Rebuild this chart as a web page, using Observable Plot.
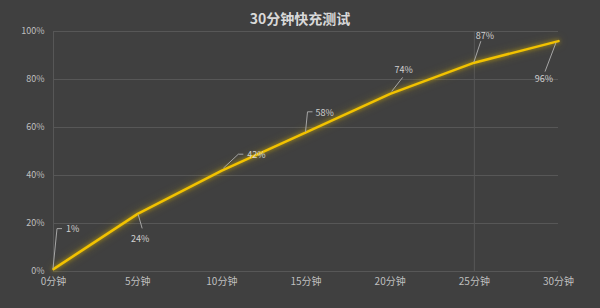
<!DOCTYPE html>
<html>
<head>
<meta charset="utf-8">
<script src="https://cdn.jsdelivr.net/npm/d3@7"></script>
<script src="https://cdn.jsdelivr.net/npm/@observablehq/plot@0.6"></script>
<style>
  html, body { margin: 0; padding: 0; background: #404040; }
  #wrap { width: 600px; height: 308px; position: relative; overflow: hidden; background: #404040; }
  #title { height: 24px; padding-top: 6px; line-height: 24px; text-align: center; font-family: "Noto Sans CJK SC", sans-serif; font-weight: bold; font-size: 14px; color: #d9d9d9; }
  svg { display: block; }
</style>
</head>
<body>
<div id="wrap"><div id="title">30分钟快充测试</div><div id="chart"></div></div>
<script>
const minutes = [0, 5, 10, 15, 20, 25, 30];
const charge = [1, 24, 42, 58, 74, 87, 96];
const xTickLabels = minutes.map(m => `${m}分钟`);
const yTicks = [0, 20, 40, 60, 80, 100];
const yTickLabels = yTicks.map(v => `${v}%`);
const pointLabels = charge.map(v => `${v}%`);

// leader-line layout (pixel offsets from each point): polyline, then text position
const leaderPaths = [
  [[0, 0], [4, -40], [9, -40]],
  [[1, 1], [5, 15]],
  [[2, -2], [17, -16], [22, -16]],
  [[0, 0], [2, -20], [7, -20]],
  [[2, -2], [13, -16]],
  [[0, 0], [7, -21]],
  [[-2, 2], [-13, 31]]
];
const textPos = [
  [13, -40, "start"],
  [3, 25, "middle"],
  [26, -15, "start"],
  [10, -19, "start"],
  [14, -24, "middle"],
  [11, -26, "middle"],
  [-14, 38, "middle"]
];

const data = minutes.map((m, i) => ({ m, v: charge[i], label: pointLabels[i] }));
const font = `"Noto Sans CJK SC", "Noto Sans", sans-serif`;

const labelsMark = (index, scales) => {
  const g = d3.create("svg:g");
  data.forEach((d, i) => {
    const px = scales.x(d.m), py = scales.y(d.v);
    g.append("polyline")
      .attr("points", leaderPaths[i].map(([dx, dy]) => `${px + dx},${py + dy}`).join(" "))
      .attr("fill", "none")
      .attr("stroke", "#a6a6a6")
      .attr("stroke-width", 1);
    const [tx, ty, anchor] = textPos[i];
    g.append("text")
      .attr("x", px + tx).attr("y", py + ty)
      .attr("text-anchor", anchor)
      .attr("dy", "0.35em")
      .attr("fill", "#d0d0d0")
      .attr("font-size", 9)
      .attr("font-family", font)
      .text(d.label);
  });
  return g.node();
};

const chart = Plot.plot({
  width: 600,
  height: 278,
  marginLeft: 53,
  marginRight: 42,
  marginTop: 1,
  marginBottom: 37,
  style: { background: "#404040", fontFamily: font, overflow: "visible" },
  x: { domain: [0, 30], axis: null },
  y: { domain: [0, 100], axis: null },
  marks: [
    Plot.ruleY(yTicks, { stroke: "#575757", strokeWidth: 1 }),
    Plot.ruleX([0], { stroke: "#575757", strokeWidth: 1 }),
    Plot.ruleX([25], { stroke: "#575757", strokeWidth: 1 }),
    Plot.axisY({ ticks: yTicks, tickFormat: d => yTickLabels[yTicks.indexOf(d)], tickSize: 0, tickPadding: 9, fontSize: 9, fill: "#bfbfbf", label: null }),
    Plot.axisX({ ticks: minutes, tickFormat: d => xTickLabels[minutes.indexOf(d)], tickSize: 0, tickPadding: 6.5, fontSize: 10, fill: "#bfbfbf", label: null }),
    Plot.line(data, { x: "m", y: "v", stroke: "#f2c200", strokeWidth: 2.5, strokeLinejoin: "round", className: "glowline" }),
    labelsMark
  ]
});
document.getElementById("chart").appendChild(chart);
d3.selectAll(".glowline path").style("filter", "drop-shadow(0 0 2px rgba(220,180,0,0.7)) drop-shadow(0 0 4px rgba(200,170,0,0.35))");
</script>
</body>
</html>
